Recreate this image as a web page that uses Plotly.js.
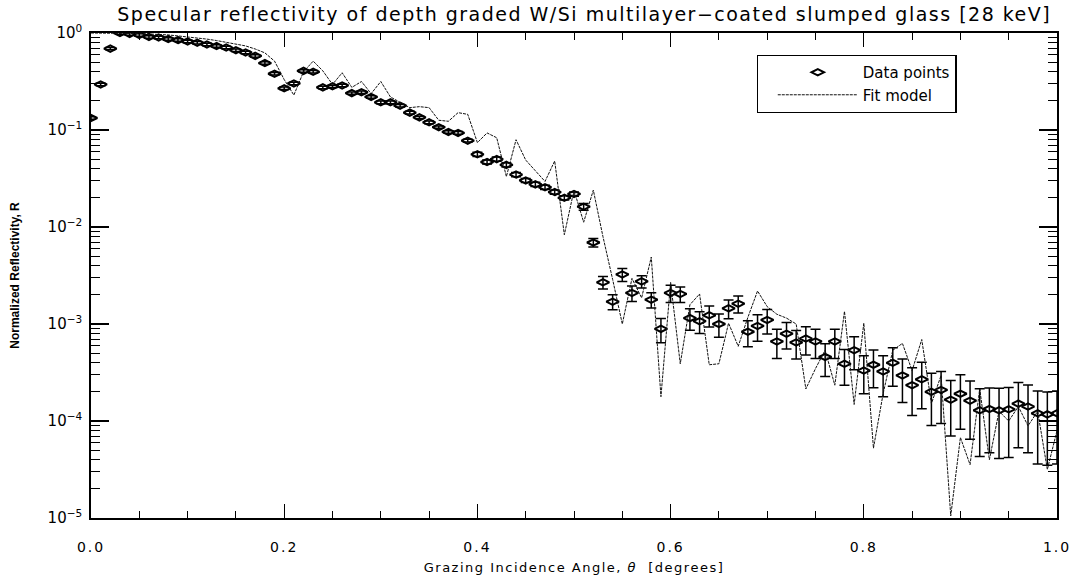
<!DOCTYPE html>
<html>
<head>
<meta charset="utf-8">
<script src="https://cdn.plot.ly/plotly-3.0.1.min.js"></script>
<style>
html,body{margin:0;padding:0;background:#fff;}
#chart{width:1074px;height:578px;}
#chart .gtitle{letter-spacing:1.5px;}
#chart .xtick text{letter-spacing:2px;}
#chart .xtitle{letter-spacing:1.5px;}
</style>
</head>
<body>
<div id="chart"></div>
<script>
// Grazing incidence angle (degrees)
const angle = [
  0.00,0.01,0.02,0.03,0.04,0.05,0.06,0.07,0.08,0.09,
  0.10,0.11,0.12,0.13,0.14,0.15,0.16,0.17,0.18,0.19,
  0.20,0.21,0.22,0.23,0.24,0.25,0.26,0.27,0.28,0.29,
  0.30,0.31,0.32,0.33,0.34,0.35,0.36,0.37,0.38,0.39,
  0.40,0.41,0.42,0.43,0.44,0.45,0.46,0.47,0.48,0.49,
  0.50,0.51,0.52,0.53,0.54,0.55,0.56,0.57,0.58,0.59,
  0.60,0.61,0.62,0.63,0.64,0.65,0.66,0.67,0.68,0.69,
  0.70,0.71,0.72,0.73,0.74,0.75,0.76,0.77,0.78,0.79,
  0.80,0.81,0.82,0.83,0.84,0.85,0.86,0.87,0.88,0.89,
  0.90,0.91,0.92,0.93,0.94,0.95,0.96,0.97,0.98,0.99,
  1.00
];

// Measured normalized reflectivity (data points)
const reflectivity = [
  0.133,0.295,0.69,1.0,0.977,0.955,0.912,0.90,0.867,0.845,
  0.818,0.794,0.762,0.733,0.708,0.665,0.631,0.581,0.490,0.380,
  0.269,0.302,0.407,0.398,0.275,0.282,0.288,0.240,0.245,0.219,
  0.193,0.193,0.178,0.151,0.135,0.120,0.107,0.0955,0.0933,0.0776,
  0.0562,0.0468,0.0501,0.0437,0.0347,0.0302,0.0275,0.0257,0.0229,0.0200,
  0.0219,0.0162,0.00692,0.00269,0.00170,0.00324,0.00209,0.00275,0.00178,0.000891,
  0.00209,0.00204,0.00115,0.00107,0.00123,0.00100,0.00145,0.00162,0.000832,0.000955,
  0.00110,0.000661,0.000794,0.000646,0.000708,0.000661,0.000457,0.000661,0.000389,0.000537,
  0.000331,0.000380,0.000324,0.000398,0.000295,0.000234,0.000269,0.000200,0.000209,0.000166,
  0.000191,0.000162,0.000129,0.000133,0.000129,0.000132,0.000151,0.000141,0.000120,0.000117,
  0.000120
];

// Error on each data point (absolute, symmetric)
const reflectivityError = [
  0.004,0.009,0.02,0.03,0.029,0.029,0.027,0.027,0.026,0.025,
  0.025,0.024,0.023,0.022,0.021,0.02,0.019,0.017,0.015,0.011,
  0.008,0.009,0.012,0.012,0.008,0.008,0.009,0.007,0.007,0.007,
  0.006,0.006,0.005,0.005,0.004,0.004,0.003,0.003,0.003,0.0025,
  0.0028,0.0023,0.0025,0.0022,0.0017,0.0015,0.0014,0.0013,0.0012,0.001,
  0.0011,0.0013,0.0007,0.0004,0.0003,0.0005,0.00038,0.0004,0.00032,0.00025,
  0.00042,0.00037,0.00029,0.00027,0.0003,0.00027,0.00032,0.00032,0.00025,0.00029,
  0.00031,0.00022,0.00024,0.00021,0.00023,0.00022,0.00017,0.00022,0.000156,0.0002,
  0.00014,0.00016,0.000146,0.00017,0.00014,0.00012,0.000135,0.00011,0.000115,0.000096,
  0.000109,0.000097,0.000086,0.000086,0.000088,0.00009,0.000098,0.000094,0.000084,0.000082,
  0.000084
];

// Fit model
const fitModel = [
  1.0,1.0,1.0,1.0,0.993,0.986,0.977,0.968,0.955,0.933,
  0.912,0.891,0.865,0.836,0.804,0.771,0.736,0.684,0.624,0.513,
  0.331,0.229,0.398,0.513,0.407,0.295,0.389,0.275,0.316,0.237,
  0.316,0.219,0.191,0.170,0.174,0.170,0.126,0.123,0.151,0.145,
  0.0741,0.0933,0.0832,0.0331,0.0794,0.0490,0.0380,0.0295,0.0479,0.00832,
  0.0240,0.0112,0.0240,0.00794,0.00288,0.00100,0.00295,0.00186,0.00490,0.000178,
  0.00269,0.000389,0.00158,0.00204,0.000380,0.000389,0.00102,0.000589,0.00117,0.00219,
  0.00151,0.00126,0.00115,0.00100,0.000214,0.000347,0.000537,0.000234,0.00135,0.000148,
  0.00102,0.0000525,0.000191,0.000537,0.000631,0.000331,0.000692,0.000151,0.000295,0.0000105,
  0.0000676,0.0000355,0.000214,0.0000398,0.000126,0.000100,0.000141,0.0000891,0.000126,0.0000316,
  0.0000794
];

// Tick labels
const xTickVals = [0, 0.2, 0.4, 0.6, 0.8, 1.0];
const xTickText = ['0.0', '0.2', '0.4', '0.6', '0.8', '1.0'];
const yTickVals = [1e-5, 1e-4, 1e-3, 1e-2, 1e-1, 1];
const yTickText = ['10<sup>\u22125</sup>', '10<sup>\u22124</sup>', '10<sup>\u22123</sup>',
                   '10<sup>\u22122</sup>', '10<sup>\u22121</sup>', '10<sup>0</sup>'];

// minor log ticks (2..9 in each decade)
const yMinor = [];
for (let d = -5; d < 0; d++) {
  for (let m = 2; m <= 9; m++) yMinor.push(m * Math.pow(10, d));
}

const FONT = 'DejaVu Sans, Liberation Sans, sans-serif';

const traces = [
  {
    x: angle, y: reflectivity, type: 'scatter', mode: 'markers',
    name: 'Data points',
    marker: {symbol: 'diamond-wide-open', size: 9, color: '#000', line: {width: 2, color: '#000'}},
    error_y: {type: 'data', array: reflectivityError, visible: true, color: '#000', thickness: 1.5, width: 5},
    cliponaxis: true
  },
  {
    x: angle, y: fitModel, type: 'scatter', mode: 'lines',
    name: 'Fit model',
    line: {color: '#111', width: 1, dash: '3px,1px'}
  }
];

const layout = {
  width: 1074, height: 578,
  margin: {l: 91, r: 17, t: 33, b: 60},
  paper_bgcolor: '#fff', plot_bgcolor: '#fff',
  showlegend: true,
  title: {
    text: 'Specular reflectivity of depth graded W/Si multilayer\u2212coated slumped glass [28 keV]',
    font: {family: FONT, size: 19, color: '#000'},
    x: 0.544, xanchor: 'center', y: 0.975, yanchor: 'middle'
  },
  xaxis: {
    range: [0, 1], tickmode: 'array', tickvals: xTickVals, ticktext: xTickText,
    ticks: 'inside', ticklen: 14, tickwidth: 1.2, tickcolor: '#000',
    showline: true, linecolor: '#000', linewidth: 1.8, mirror: 'ticks',
    showgrid: false, zeroline: false,
    minor: {ticks: 'inside', ticklen: 7, tickwidth: 1, tickcolor: '#000', dtick: 0.05, tick0: 0, showgrid: false},
    tickfont: {family: FONT, size: 14, color: '#000'},
    ticklabelstandoff: 15,
    title: {text: 'Grazing Incidence Angle, <i>\u03b8</i>  [degrees]', font: {family: FONT, size: 13, color: '#000'}, standoff: 9}
  },
  yaxis: {
    type: 'log', range: [-5, 0], tickmode: 'array', tickvals: yTickVals, ticktext: yTickText,
    ticks: 'inside', ticklen: 18, tickwidth: 1.2, tickcolor: '#000',
    showline: true, linecolor: '#000', linewidth: 1.8, mirror: 'ticks',
    showgrid: false, zeroline: false,
    minor: {ticks: 'inside', ticklen: 9, tickwidth: 1, tickcolor: '#000', tickmode: 'array', tickvals: yMinor, showgrid: false},
    tickfont: {family: FONT, size: 15, color: '#000'},
    ticklabelstandoff: 4,
    title: {text: 'Normalized Reflectivity, R', font: {family: 'Liberation Sans Narrow, Liberation Sans, Arial, sans-serif', size: 12, color: '#000', weight: 'bold'}, standoff: 25}
  },
  legend: {
    x: 0.689, y: 0.955, xanchor: 'left', yanchor: 'top',
    bgcolor: '#fff', bordercolor: '#000', borderwidth: 1.2,
    font: {family: FONT, size: 15, color: '#000'},
    itemwidth: 80, indentation: 15
  }
};

Plotly.newPlot('chart', traces, layout, {displayModeBar: false, staticPlot: true});
</script>
</body>
</html>
